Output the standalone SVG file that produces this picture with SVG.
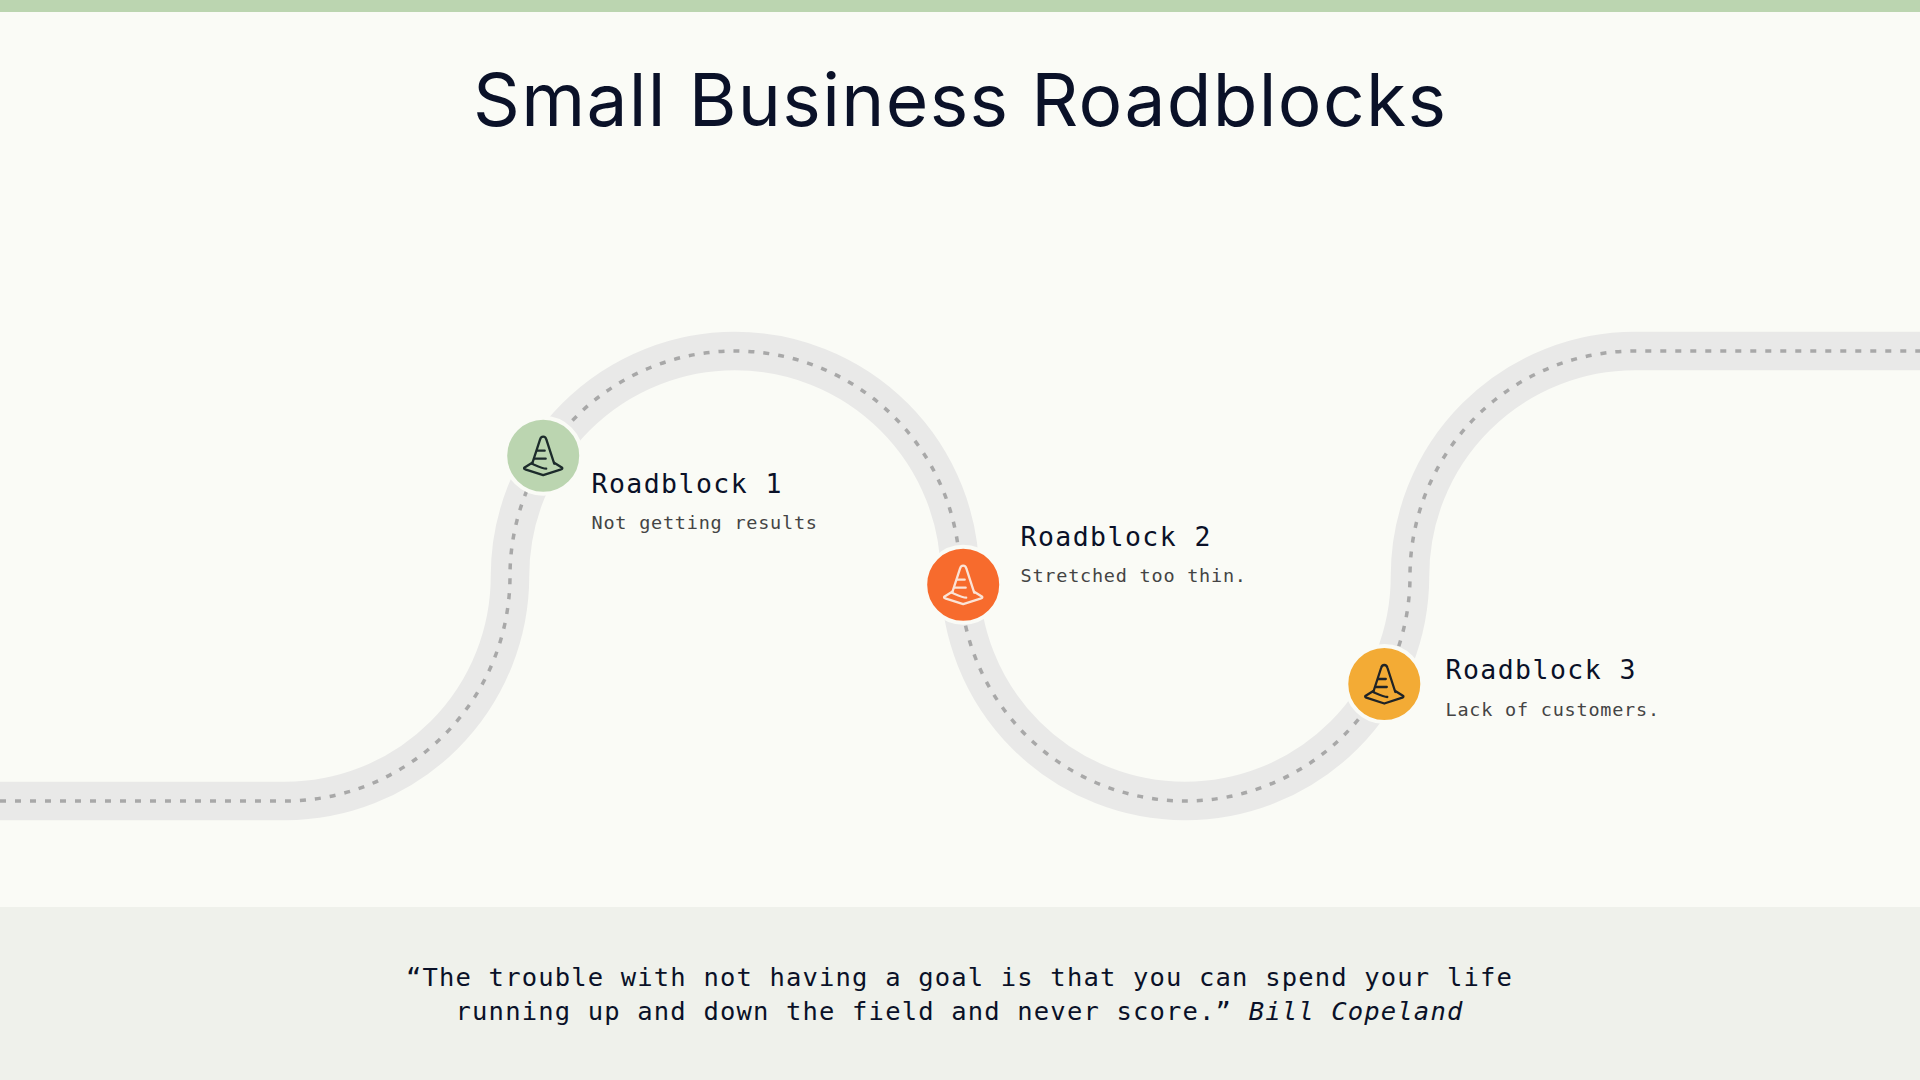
<svg xmlns="http://www.w3.org/2000/svg" width="1920" height="1080" viewBox="0 0 1920 1080">
<style>
.title{font-family:"Inter","Liberation Sans",sans-serif;font-size:73px;fill:#0a1128;text-anchor:middle}
.h{font-family:"DejaVu Sans Mono","Liberation Mono",monospace;font-size:26.5px;letter-spacing:1.45px;fill:#0a1128}
.s{font-family:"DejaVu Sans Mono","Liberation Mono",monospace;font-size:18.5px;letter-spacing:.77px;fill:#444}
.q{font-family:"DejaVu Sans Mono","Liberation Mono",monospace;font-size:25.5px;letter-spacing:1.17px;fill:#0a1128;text-anchor:middle}
.ring{stroke:#fafbf6;stroke-width:4}
.cone{fill:none;stroke-width:2.3;stroke-linejoin:round;stroke-linecap:round}
</style>
<defs>
<g id="cone">
<path d="M-11 8 L-3.2 -16 Q-2.5 -19 0 -19 Q2.5 -19 3.2 -16 L11 8"/>
<path d="M-11 7 L-19 12 Q-19.5 13 -18 13.6 L0 19.5 L18 13.6 Q19.5 13 19 12 L11 7"/>
<path d="M-11 8 L-9 9 Q0 13 3 13"/>
<path d="M-6 -5 H1.5 M-8.5 3 H2.5"/>
</g>
</defs>
<rect width="1920" height="1080" fill="#fafbf6"/>
<rect width="1920" height="12" fill="#bbd5b0"/>
<rect y="907" width="1920" height="173" fill="#eff1eb"/>
<text class="title" x="959.5" y="126" textLength="973" lengthAdjust="spacing">Small Business Roadblocks</text>
<g id="connectors" fill="none">
<path id="road" d="M0 801 H285 A225 225 0 0 0 510 576 A225 225 0 0 1 735 351 A225 225 0 0 1 960 576 A225 225 0 0 0 1185 801 A225 225 0 0 0 1410 576 A225 225 0 0 1 1635 351 H1920" stroke="#e9e9e8" stroke-width="38.5"/>
<path d="M0 801 H285 A225 225 0 0 0 510 576 A225 225 0 0 1 735 351 A225 225 0 0 1 960 576 A225 225 0 0 0 1185 801 A225 225 0 0 0 1410 576 A225 225 0 0 1 1635 351 H1920" stroke="#a8a8a8" stroke-width="3.5" stroke-dasharray="6 9"/>
</g>
<g id="node1">
<circle class="ring" cx="543.2" cy="455.7" r="38" fill="#bbd5b0"/>
<use href="#cone" x="543.2" y="455.7" class="cone" stroke="#1c2b2b"/>
<text class="h" x="591.5" y="493">Roadblock 1</text>
<text class="s" x="591.5" y="529">Not getting results</text>
</g>
<g id="node2">
<circle class="ring" cx="963.2" cy="584.7" r="38" fill="#f76b2d"/>
<use href="#cone" x="963.2" y="584.7" class="cone" stroke="#fbe3d6"/>
<text class="h" x="1020.5" y="546">Roadblock 2</text>
<text class="s" x="1020.5" y="582">Stretched too thin.</text>
</g>
<g id="node3">
<circle class="ring" cx="1384.3" cy="684" r="38" fill="#f3ab35"/>
<use href="#cone" x="1384.3" y="684" class="cone" stroke="#1f2326"/>
<text class="h" x="1445.5" y="679">Roadblock 3</text>
<text class="s" x="1445.5" y="716">Lack of customers.</text>
</g>
<g id="quote">
<text class="q" x="959.5" y="986">“The trouble with not having a goal is that you can spend your life</text>
<text class="q" x="959.5" y="1020">running up and down the field and never score.” <tspan font-style="italic">Bill Copeland</tspan></text>
</g>
</svg>
